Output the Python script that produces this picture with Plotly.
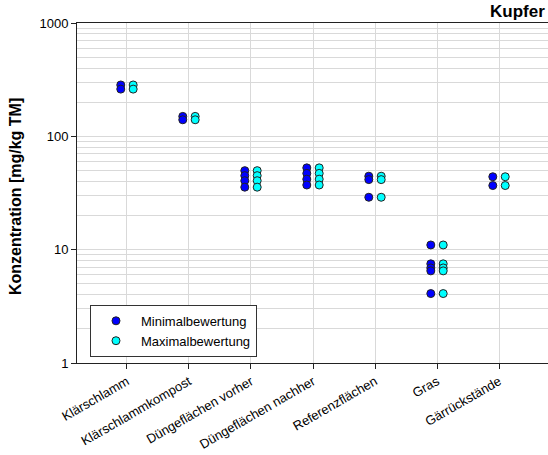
import plotly.graph_objects as go

categories = ["Klärschlamm", "Klärschlammkompost", "Düngeflächen vorher",
              "Düngeflächen nachher", "Referenzflächen", "Gras", "Gärrückstände"]

min_values = [
    [284, 261],
    [150, 140],
    [49.8, 45.0, 40.6, 35.6],
    [52.7, 47.1, 41.9, 37.2],
    [44.5, 41.5, 29.0],
    [11.0, 7.5, 6.9, 6.5, 4.1],
    [44.0, 36.8],
]
max_values = [
    [284, 261],
    [150, 140],
    [49.8, 45.0, 40.6, 35.6],
    [52.7, 47.1, 41.9, 37.2],
    [44.5, 41.5, 29.0],
    [11.0, 7.5, 6.9, 6.5, 4.1],
    [44.0, 36.8],
]

series_names = ["Minimalbewertung", "Maximalbewertung"]
series_colors = ["#0000ff", "#00ffff"]
y_tick_vals = [1, 10, 100, 1000]
y_tick_text = ["1", "10", "100", "1000"]


def flatten(groups):
    xs, ys = [], []
    for cat, vals in zip(categories, groups):
        for v in vals:
            xs.append(cat)
            ys.append(v)
    return xs, ys


fig = go.Figure()
for name, groups, color in zip(series_names, [min_values, max_values], series_colors):
    xs, ys = flatten(groups)
    fig.add_trace(go.Scatter(
        x=xs, y=ys, mode="markers", name=name,
        marker=dict(size=8, color=color, line=dict(color="#222222", width=1)),
        offsetgroup=name,
    ))

font = "Liberation Sans, Arial, sans-serif"
grid = "#d9d9d9"

fig.update_layout(
    width=548, height=455,
    margin=dict(l=77, r=0, t=23, b=92, autoexpand=False),
    paper_bgcolor="white", plot_bgcolor="white",
    scattermode="group", scattergap=0.6,
    font=dict(family=font, size=13, color="#000000"),
    showlegend=True,
    legend=dict(
        x=0.0276, y=0.171, xanchor="left", yanchor="top",
        bgcolor="white", bordercolor="#333333", borderwidth=1,
        font=dict(family=font, size=13, color="#000000"),
        tracegroupgap=0, itemwidth=40,
    ),
    xaxis=dict(
        type="category", categoryorder="array", categoryarray=categories,
        range=[-0.806, 6.79], automargin=False,
        showgrid=True, gridcolor=grid, gridwidth=1,
        showline=True, linecolor="#222222", linewidth=1, mirror=True,
        ticks="outside", ticklen=5, tickcolor="#222222",
        tickangle=-30, tickfont=dict(family=font, size=13, color="#000000"),
        zeroline=False,
    ),
    yaxis=dict(
        type="log", range=[0, 3], automargin=False,
        tickvals=y_tick_vals, ticktext=y_tick_text,
        showgrid=True, gridcolor=grid, gridwidth=1,
        showline=True, linecolor="#222222", linewidth=1,
        ticks="outside", ticklen=5, tickcolor="#222222",
        tickfont=dict(family=font, size=13, color="#000000"),
        minor=dict(dtick="D1", showgrid=True, gridcolor=grid, gridwidth=1, ticks=""),
        zeroline=False,
    ),
    annotations=[
        dict(text="<b>Kupfer</b>", xref="paper", yref="paper", x=0.998, y=1.0,
             xanchor="right", yanchor="bottom", showarrow=False,
             font=dict(family=font, size=17, color="#000000")),
        dict(text="<b>Konzentration [mg/kg TM]</b>", xref="paper", yref="paper",
             x=-0.1316, y=0.488, xanchor="center", yanchor="middle",
             textangle=-90, showarrow=False,
             font=dict(family=font, size=16, color="#000000")),
    ],
)

fig.write_html("out.html", config={"displayModeBar": False},
               post_script="document.body.style.margin='0px';")
